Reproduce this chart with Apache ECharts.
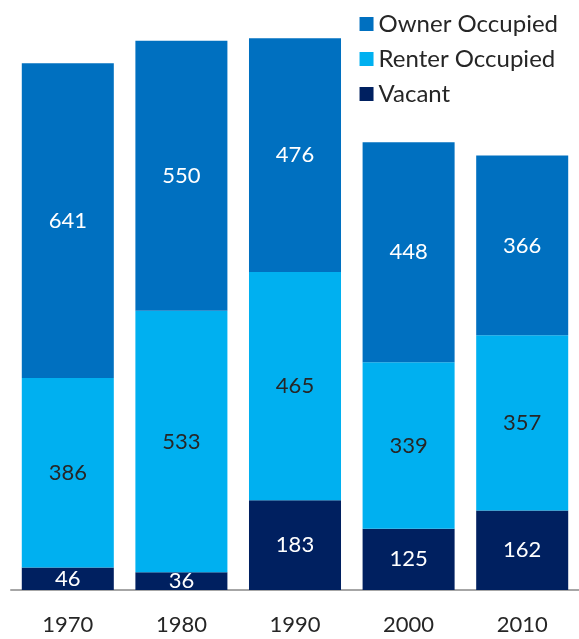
<!DOCTYPE html>
<html>
<head>
<meta charset="UTF-8">
<script src="https://cdn.jsdelivr.net/npm/echarts@6/dist/echarts.min.js"></script>
<style>
  body { margin: 0; padding: 0; background: #fff; }
  #chart { width: 579px; height: 639px; }
</style>
</head>
<body>
<div id="chart"></div>
<script>
  // housing units by decade
  const years = ['1970', '1980', '1990', '2000', '2010'];
  const vacant = [46, 36, 183, 125, 162];
  const renter = [386, 533, 465, 339, 357];
  const owner = [641, 550, 476, 448, 366];

  const font = 'Lato, "Open Sans", sans-serif';

  const chart = echarts.init(document.getElementById('chart'));

  function seg(name, data, color, labelColor) {
    return {
      name: name,
      type: 'bar',
      stack: 'total',
      barWidth: '81%',
      data: data,
      itemStyle: { color: color },
      label: {
        show: true,
        position: 'inside',
        color: labelColor,
        fontSize: 22,
        fontFamily: font
      }
    };
  }

  chart.setOption({
    animation: false,
    legend: {
      data: ['Owner Occupied', 'Renter Occupied', 'Vacant'],
      orient: 'vertical',
      right: 16,
      top: 7,
      itemWidth: 14,
      itemHeight: 14,
      itemGap: 11,
      icon: 'rect',
      textStyle: { fontSize: 24, color: '#262626', fontFamily: font }
    },
    grid: { left: 11, right: 0, top: 1, bottom: 49 },
    xAxis: {
      type: 'category',
      data: years,
      axisTick: { show: false },
      axisLine: { lineStyle: { color: '#a6a6a6', width: 2 } },
      axisLabel: { fontSize: 22, color: '#262626', margin: 24, fontFamily: font }
    },
    yAxis: { type: 'value', min: 0, max: 1200, show: false, splitLine: { show: false } },
    series: [
      seg('Vacant', vacant, '#002060', '#ffffff'),
      seg('Renter Occupied', renter, '#00b0f0', '#262626'),
      seg('Owner Occupied', owner, '#0070c0', '#ffffff')
    ]
  });
</script>
</body>
</html>
